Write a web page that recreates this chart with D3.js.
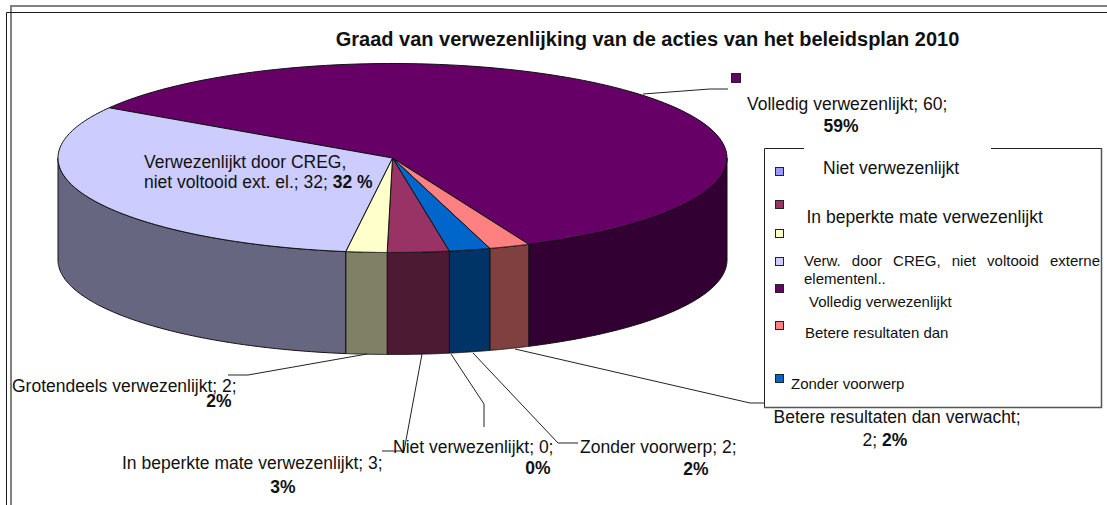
<!DOCTYPE html>
<html><head><meta charset="utf-8">
<script src="https://cdn.jsdelivr.net/npm/d3@7/dist/d3.min.js"></script>
<style>html,body{margin:0;padding:0;background:#fff;overflow:hidden}svg{display:block}text{font-family:"Liberation Sans",Arial,sans-serif;fill:#111}</style>
</head><body><svg id="c" width="1107" height="505"></svg>
<script>
const categories=["Volledig verwezenlijkt","Betere resultaten dan verwacht","Zonder voorwerp","In beperkte mate verwezenlijkt","Niet verwezenlijkt","Grotendeels verwezenlijkt","Verwezenlijkt door CREG, niet voltooid ext. el."];
const values=[60,2,2,3,0,2,32];
const percents=["59%","2%","2%","3%","0%","2%","32 %"];
const topColors=["#660066","#FF8080","#0066CC","#993366","#9999FF","#FFFFCC","#CCCCFF"];
const sideColors=["#330033","#804040","#003366","#4D1A33","#4D4D80","#808066","#666680"];
const legendLabels=["Niet verwezenlijkt","In beperkte mate verwezenlijkt","Verw. door CREG, niet voltooid externe","elementenl..","Volledig verwezenlijkt","Betere resultaten dan","Zonder voorwerp"];
const legendColors=["#9999FF","#993366","#FFFFCC","#CCCCFF","#660066","#FF8080","#0066CC"];
const title="Graad van verwezenlijking van de acties van het beleidsplan 2010";

const svg=d3.select("#c");
const cx=392.5,cy=158,rx=334.5,ry=94.5,depth=102;
const rad=d=>d*Math.PI/180;
const pt=(a,dy=0)=>[cx+rx*Math.sin(a),cy-ry*Math.cos(a)+dy];
const start=-57.9;
const arcs=d3.pie().sort(null).startAngle(rad(start)).endAngle(rad(start+360))(values);
const line=d3.line();
const range=(a,b)=>d3.range(0,121).map(i=>a+(b-a)*i/120);

// double frame
svg.append("path").attr("d","M11,505V6H1107").attr("fill","none").attr("stroke","#808080").attr("stroke-width",2);
svg.append("path").attr("d","M6.5,505V12.5H1107").attr("fill","none").attr("stroke","#1a1a1a").attr("stroke-width",1);

// pie side walls, then top slices
const g=svg.append("g").attr("stroke","#111").attr("stroke-width",1).attr("stroke-linejoin","round");
arcs.forEach((d,i)=>{
  const lo=Math.max(d.startAngle,rad(90)),hi=Math.min(d.endAngle,rad(270));
  if(hi<=lo)return;
  const as=range(lo,hi);
  g.append("path").attr("d",line([...as.map(a=>pt(a)),...as.slice().reverse().map(a=>pt(a,depth))])+"Z").attr("fill",sideColors[i]);
});
arcs.forEach((d,i)=>{
  if(d.endAngle<=d.startAngle)return;
  const as=range(d.startAngle,d.endAngle);
  g.append("path").attr("d",line([[cx,cy],...as.map(a=>pt(a))])+"Z").attr("fill",topColors[i]);
});

svg.append("text").attr("x",647.5).attr("y",46).attr("text-anchor","middle").attr("font-size",20).attr("font-weight","bold").text(title);

// leader lines
const leaders=[
 [[643,94],[710,89],[728,89]],
 [[515,349],[750,403],[765,403]],
 [[473,353],[558,443],[578,443]],
 [[451,354],[484,404],[484,427]],
 [[422,354],[404,451],[382,451]],
 [[367,354],[248,375],[228,375]]];
const lg=svg.append("g").attr("fill","none").attr("stroke","#222").attr("stroke-width",1);
leaders.forEach(l=>lg.append("path").attr("d",line(l)));

// legend box
svg.append("path").attr("d","M764.5,407.5V148.5H1101").attr("fill","none").attr("stroke","#222");
svg.append("rect").attr("x",765).attr("y",149).attr("width",336).attr("height",258).attr("fill","#fff");
svg.append("path").attr("d","M804,148.5H991").attr("stroke","#fff").attr("stroke-width",2);
svg.append("path").attr("d","M764,407.5H1101.5V148").attr("fill","none").attr("stroke","#555").attr("stroke-width",1.5);
const markerPos=[[775.5,167.5],[775.5,200.5],[775.5,229.5],[775.5,257.5],[775.5,284.5],[775.5,321.5],[775.5,374.5]];
svg.append("g").selectAll("rect").data(legendColors).join("rect")
  .attr("x",(d,i)=>markerPos[i][0]).attr("y",(d,i)=>markerPos[i][1])
  .attr("width",8).attr("height",8).attr("fill",d=>d).attr("stroke","#222");
svg.append("rect").attr("x",731.5).attr("y",73.5).attr("width",9).attr("height",9).attr("fill",topColors[0]).attr("stroke","#222");

const txt=(x,y,s,fs,anchor,bold)=>svg.append("text").attr("x",x).attr("y",y).attr("font-size",fs).attr("text-anchor",anchor||"start").attr("font-weight",bold?"bold":"normal").attr("xml:space","preserve").text(s);
const LF=17.5, SF=15;
txt(823,174,legendLabels[0],LF);
txt(806.5,223,legendLabels[1],LF);
const just=txt(804,266,legendLabels[2],SF);
const gaps=legendLabels[2].split(" ").length-1;
just.attr("word-spacing",(296-just.node().getComputedTextLength())/gaps);
txt(804,284,legendLabels[3],SF);
txt(809,307,legendLabels[4],SF);
txt(805,338,legendLabels[5],SF);
txt(791,389,legendLabels[6],SF);

// data labels
txt(747,110,`${categories[0]}; ${values[0]};`,LF);
txt(841,132,percents[0],LF,"middle",true);

txt(773.5,423,`${categories[1]};`,LF);
const b2=txt(862.5,446,`${values[1]}; `,LF);
b2.append("tspan").attr("font-weight","bold").text(percents[1]);

txt(580,453,`${categories[2]}; ${values[2]};`,LF);
txt(696,475,percents[2],LF,"middle",true);

txt(122,469,`${categories[3]}; ${values[3]};`,LF);
txt(283,493,percents[3],LF,"middle",true);

txt(393,453,`${categories[4]}; ${values[4]};`,LF);
txt(538,474,percents[4],LF,"middle",true);

txt(12,392,`${categories[5]}; ${values[5]};`,LF);
txt(219,407,percents[5],LF,"middle",true);

txt(144,168,"Verwezenlijkt door CREG,",LF);
const c2=txt(144,188,`niet voltooid ext. el.; ${values[6]}; `,LF);
c2.append("tspan").attr("font-weight","bold").text(percents[6]);
</script></body></html>
